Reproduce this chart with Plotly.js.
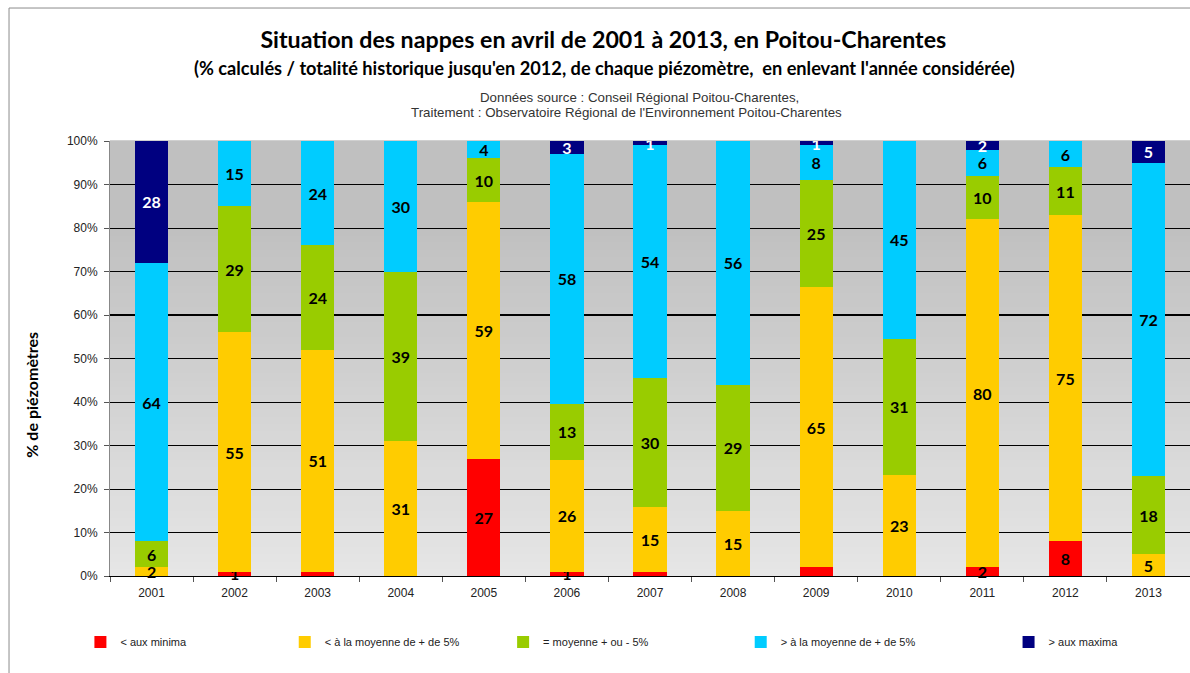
<!DOCTYPE html>
<html>
<head>
<meta charset="utf-8">
<script src="https://cdn.plot.ly/plotly-3.0.1.min.js"></script>
<style>html,body{margin:0;padding:0;background:#fff;}#chart{width:1190px;height:673px;}</style>
</head>
<body>
<div id="chart"></div>
<script>
// ---- Data (percent of piezometers per class) ----
const years = ['2001','2002','2003','2004','2005','2006','2007','2008','2009','2010','2011','2012','2013'];
const seriesNames = ['< aux minima', '< à la moyenne de + de 5%', '= moyenne + ou - 5%', '> à la moyenne de + de 5%', '> aux maxima'];
const belowMinima   = [0, 1, 1, 0, 27, 1, 1, 0, 2, 0, 2, 8, 0];
const belowAverage  = [2, 55, 51, 31, 59, 26, 15, 15, 65, 23, 80, 75, 5];
const aroundAverage = [6, 29, 24, 39, 10, 13, 30, 29, 25, 31, 10, 11, 18];
const aboveAverage  = [64, 15, 24, 30, 4, 58, 54, 56, 8, 45, 6, 6, 72];
const aboveMaxima   = [28, 0, 0, 0, 0, 3, 1, 0, 1, 0, 2, 0, 5];
// labels not displayed on the original chart (minima series)
const hiddenMinimaLabels = ['2003', '2007', '2009'];
const yTickVals = [0,10,20,30,40,50,60,70,80,90,100];
const yTickText = yTickVals.map(v => v + '%');

// ---- Styling ----
const colors = ['#FF0000', '#FFCC00', '#99CC00', '#00CCFF', '#000080'];
const labelColors = ['#000000', '#000000', '#000000', '#000000', '#FFFFFF'];
const allSeries = [belowMinima, belowAverage, aroundAverage, aboveAverage, aboveMaxima];
const legendIds = ['legend', 'legend2', 'legend3', 'legend4', 'legend5'];
const legendX = [-0.0274, 0.1618, 0.364, 0.584, 0.832];

const traces = allSeries.map((vals, i) => ({
  type: 'bar',
  name: seriesNames[i],
  x: years,
  y: vals,
  text: vals.map((v, j) => (v === 0 || (i === 0 && hiddenMinimaLabels.includes(years[j]))) ? '' : String(v)),
  textposition: 'inside',
  insidetextanchor: 'middle',
  constraintext: 'none',
  textangle: 0,
  cliponaxis: i === 4,
  textfont: {family: 'Lato, "Open Sans", sans-serif', size: 16, color: labelColors[i], weight: 'bold'},
  marker: {color: colors[i], line: {width: 0}},
  legend: legendIds[i],
  hoverinfo: 'x+y+name'
}));

// background gradient stripes (plot area)
const shapes = [];
const nStripes = 60;
for (let k = 0; k < nStripes; k++) {
  const f0 = k / nStripes, f1 = (k + 1) / nStripes;
  const fm = (f0 + f1) / 2;
  const g = fm >= 0.8 ? 192 : Math.round(230 - (230 - 192) * (fm / 0.8));
  shapes.push({type: 'rect', xref: 'x domain', yref: 'y domain', x0: 0, x1: 1, y0: f0, y1: f1 + 0.002,
    fillcolor: `rgb(${g},${g},${g})`, line: {width: 0}, layer: 'below'});
}
// thicker 60% gridline
shapes.push({type: 'line', xref: 'x domain', yref: 'y domain', x0: 0, x1: 1, y0: 0.6, y1: 0.6,
  line: {color: '#000', width: 2}, layer: 'below'});
// outer chart frame (top and left)
shapes.push({type: 'line', xref: 'paper', yref: 'paper', x0: -0.0935, x1: 1.05, y0: 1.3057, y1: 1.3057,
  line: {color: '#8c8c8c', width: 1}});
shapes.push({type: 'line', xref: 'paper', yref: 'paper', x0: -0.0935, x1: -0.0935, y0: 1.3057, y1: -0.25,
  line: {color: '#8c8c8c', width: 1}});

const legends = {};
legendIds.forEach((id, i) => {
  legends[id] = {
    x: legendX[i], xanchor: 'left', y: -0.152, yanchor: 'middle',
    orientation: 'h', bgcolor: 'rgba(0,0,0,0)', itemwidth: 30,
    font: {family: '"Liberation Sans Narrow", "Liberation Sans", Arial, sans-serif', size: 11, color: '#222'},
    itemclick: false, itemdoubleclick: false
  };
});

const layout = Object.assign({
  width: 1190,
  height: 673,
  margin: {l: 110, r: 0, t: 141, b: 97},
  paper_bgcolor: '#FFFFFF',
  plot_bgcolor: 'rgba(0,0,0,0)',
  barmode: 'stack',
  barnorm: 'percent',
  bargap: 0.6,
  showlegend: true,
  title: {
    text: 'Situation des nappes en avril de 2001 à 2013, en Poitou-Charentes',
    x: 0.507, xanchor: 'center', y: 0.9406, yanchor: 'middle', yref: 'container', xref: 'container',
    font: {family: 'Lato, "Open Sans", sans-serif', size: 23.2, color: '#000', weight: 'bold'}
  },
  xaxis: {
    type: 'category',
    showgrid: false,
    showline: true, linecolor: '#000', linewidth: 1,
    ticks: 'outside', tickson: 'boundaries', ticklen: 5, tickcolor: '#555',
    tickfont: {family: '"Liberation Sans Narrow", "Liberation Sans", Arial, sans-serif', size: 12, color: '#222'},
    ticklabelstandoff: 6,
    fixedrange: true
  },
  yaxis: {
    range: [0, 100],
    tickmode: 'array',
    tickvals: yTickVals,
    ticktext: yTickText,
    showgrid: true, gridcolor: '#000', gridwidth: 1,
    zeroline: false,
    showline: true, linecolor: '#888', linewidth: 1,
    ticks: 'outside', ticklen: 5, tickcolor: '#555',
    tickfont: {family: '"Liberation Sans Narrow", "Liberation Sans", Arial, sans-serif', size: 12, color: '#222'},
    ticklabelstandoff: 4,
    fixedrange: true
  },
  shapes: shapes,
  annotations: [
    {text: "(% calculés / totalité historique jusqu'en 2012, de chaque piézomètre,  en enlevant l'année considérée)",
     xref: 'paper', yref: 'paper', x: 0.458, y: 1.1678, xanchor: 'center', yanchor: 'middle', showarrow: false,
     font: {family: 'Lato, "Open Sans", sans-serif', size: 18.2, color: '#000', weight: 'bold'}},
    {text: 'Données source : Conseil Régional Poitou-Charentes,',
     xref: 'paper', yref: 'paper', x: 0.4907, y: 1.0989, xanchor: 'center', yanchor: 'middle', showarrow: false,
     font: {family: '"Liberation Sans Narrow", "Liberation Sans", Arial, sans-serif', size: 13.3, color: '#333'}},
    {text: "Traitement : Observatoire Régional de l'Environnement Poitou-Charentes",
     xref: 'paper', yref: 'paper', x: 0.478, y: 1.0644, xanchor: 'center', yanchor: 'middle', showarrow: false,
     font: {family: '"Liberation Sans Narrow", "Liberation Sans", Arial, sans-serif', size: 13.3, color: '#333'}},
    {text: '% de piézomètres', textangle: -90,
     xref: 'paper', yref: 'paper', x: -0.0722, y: 0.417, xanchor: 'center', yanchor: 'middle', showarrow: false,
     font: {family: 'Lato, "Open Sans", sans-serif', size: 16, color: '#000', weight: 'bold'}}
  ]
}, legends);

Plotly.newPlot('chart', traces, layout, {displayModeBar: false, staticPlot: true});
</script>
</body>
</html>
